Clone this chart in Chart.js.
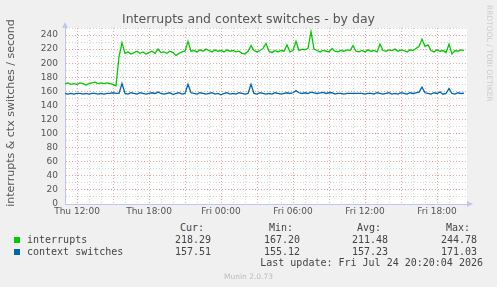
<!DOCTYPE html>
<html><head><meta charset="utf-8">
<script src="https://cdn.jsdelivr.net/npm/chart.js@4/dist/chart.umd.min.js"></script>
<style>
body{margin:0;background:#f0f0f0;}
#wrap{position:relative;width:497px;height:287px;overflow:hidden;font-family:"DejaVu Sans",sans-serif;color:#555;}
#c{position:absolute;left:0;top:0;}
.t{position:absolute;white-space:nowrap;}
.mono{font-family:"DejaVu Sans Mono",monospace;font-size:10px;line-height:12px;color:#444;}
.r{text-align:right;width:80px;}
.sq{position:absolute;width:6px;height:6px;}
</style></head><body>
<div id="wrap">
<canvas id="c" width="497" height="220"></canvas>
<div class="t" style="left:0;width:497px;top:11px;text-align:center;font-size:12.5px;line-height:16px;color:#555">Interrupts and context switches - by day</div>
<div class="t" style="left:-139.5px;width:300px;top:106px;text-align:center;font-size:11px;line-height:14px;transform:rotate(-90deg);color:#555">interrupts &amp; ctx switches / second</div>
<div class="t" style="left:485px;top:5px;writing-mode:vertical-rl;font-size:7.5px;line-height:9px;color:#ccc">RRDTOOL / TOBI OETIKER</div>
<div id="legend"></div>
<div class="t" style="left:0;width:497px;top:272px;text-align:center;font-size:7.5px;line-height:10px;color:#bbb">Munin 2.0.73</div>
</div>
<script>
// 15 min samples, starting Thu 11:00 (hours counted from Thu 00:00)
const startHour=11, stepHours=0.25;
const interrupts=[171,172,170,171,170,172,171,169,171,172,173,171,172,171,172,171,170,168,
 209,229,214,216,213,215,217,214,216,213,215,217,214,220,215,216,214,217,215,211,214,216,217,
 231,217,218,216,219,217,220,218,216,219,217,218,216,219,217,218,216,217,214,213,217,
 225,218,216,218,221,228,217,215,218,216,218,217,226,216,218,231,218,220,219,221,244.78,
 220,218,216,218,217,216,221,217,216,218,217,219,218,225,217,216,218,216,219,217,218,216,227,
 218,217,219,218,220,217,219,218,216,219,218,221,224,234,224,226,218,216,219,217,218,215,227,213,218,217,219,218.29];
const ctxSwitches=[157,156,157,156,157,157,156,157,156,157,157,156,157,156,157,157,158,157,
 157,171.03,157,156,158,157,156,158,157,156,157,158,157,159,157,156,157,158,155.5,157,158,156,157,
 170,158,157,156,158,157,156,157,158,156,157,155.12,157,158,156,157,156,158,157,156,157,
 170,157,156,158,157,156,157,156,158,157,156,157,158,157,158,161,158,157,158,157,159,
 158,157,158,158.5,157,158,158,156,157,157,156,157,157,157,157,157,157,156,157,157,156,158,157,
 156,157,158,156,157,156,158,157,156,158,157,158,159,166,158,157,156,158,157,159,156,157,164,157,156,158,157,157.51];
const tickHours=[12,18,24,30,36,42];
const tickLabels=['Thu 12:00','Thu 18:00','Fri 00:00','Fri 06:00','Fri 12:00','Fri 18:00'];
const seriesNames=['interrupts','context switches'];
const seriesColors=['#00cc00','#0066b3'];
const colHeads=['Cur:','Min:','Avg:','Max:'];
const curVals=['218.29','157.51'];
const minVals=['167.20','155.12'];
const avgVals=['211.48','157.23'];
const maxVals=['244.78','171.03'];
const lastUpdate='Last update: Fri Jul 24 20:20:04 2026';

const RED='#eaa6a6', GRAY='#d4d4d4', AXIS='#c4c4f0';
const pts=a=>a.map((v,i)=>({x:startHour+i*stepHours,y:v}));

const deco={id:'deco',
  beforeDraw(ch){const {ctx,chartArea:a}=ch;ctx.save();ctx.fillStyle='#fff';ctx.fillRect(a.left,a.top,a.right-a.left,a.bottom-a.top);ctx.restore();},
  afterDraw(ch){const {ctx,chartArea:a}=ch;ctx.save();ctx.fillStyle=AXIS;
    ctx.beginPath();ctx.moveTo(a.left-3,a.top);ctx.lineTo(a.left+3,a.top);ctx.lineTo(a.left,a.top-6);ctx.fill();
    ctx.beginPath();ctx.moveTo(a.right,a.bottom-3);ctx.lineTo(a.right,a.bottom+3);ctx.lineTo(a.right+6,a.bottom);ctx.fill();
    ctx.restore();}
};

new Chart(document.getElementById('c'),{
  type:'line',
  data:{datasets:[
    {label:seriesNames[0],data:pts(interrupts),borderColor:seriesColors[0],borderWidth:1.3,pointRadius:0,tension:0},
    {label:seriesNames[1],data:pts(ctxSwitches),borderColor:seriesColors[1],borderWidth:1.3,pointRadius:0,tension:0}
  ]},
  options:{responsive:false,animation:false,events:[],
    layout:{padding:{top:28,right:30,left:0,bottom:0}},
    plugins:{legend:{display:false},tooltip:{enabled:false}},
    scales:{
      x:{type:'linear',min:11,max:44.5,
        afterBuildTicks:s=>{s.ticks=s.ticks.filter(t=>Number.isInteger(t.value));},
        afterFit:s=>{s.height=16;},
        ticks:{stepSize:1,autoSkip:false,maxRotation:0,padding:2,color:'#555',font:{family:'DejaVu Sans',size:9},
          callback:v=>{const k=tickHours.indexOf(v);return k<0?'':tickLabels[k];}},
        grid:{color:c=>c.tick&&c.tick.value%3===0?RED:GRAY,drawTicks:false,lineWidth:1},
        border:{color:AXIS,dash:[1,2]}},
      y:{min:0,max:250,
        afterFit:s=>{s.width=65;},
        ticks:{stepSize:10,autoSkip:false,padding:7,color:'#555',font:{family:'DejaVu Sans',size:9},
          callback:v=>v%20===0?String(v):''},
        grid:{color:c=>c.tick&&c.tick.value%20===0?RED:GRAY,drawTicks:false,lineWidth:1},
        border:{color:AXIS,dash:[1,2]}}
    }},
  plugins:[deco]
});

// legend table (munin style)
const lg=document.getElementById('legend');
function txt(s,left,top,right){const d=document.createElement('div');d.className='t mono'+(right?' r':'');d.textContent=s;
  d.style.top=top+'px';d.style.left=(right?left-80:left)+'px';lg.appendChild(d);}
const headRight=[204,293,381,470], valRight=[211,300,388,477];
colHeads.forEach((h,i)=>txt(h,headRight[i],222,true));
seriesNames.forEach((n,r)=>{
  const top=234+r*12;
  const sq=document.createElement('div');sq.className='sq';sq.style.background=seriesColors[r];sq.style.left='14px';sq.style.top=(top+3)+'px';lg.appendChild(sq);
  txt(n,27,top,false);
  [curVals,minVals,avgVals,maxVals].forEach((col,i)=>txt(col[r],valRight[i],top,true));
});
txt(lastUpdate,483,257,true);
lg.lastChild.style.width='240px';lg.lastChild.style.left='243px';
</script>
</body></html>
